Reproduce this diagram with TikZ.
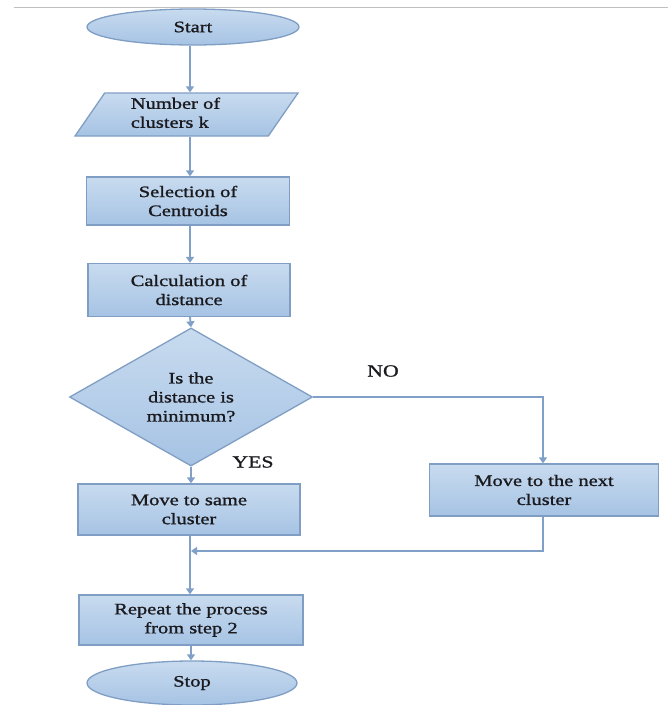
\documentclass[tikz,border=0pt]{standalone}
\usepackage{fontspec}
\setmainfont[FakeStretch=1.28,FakeBold=1.1]{Liberation Serif}
\usetikzlibrary{shapes.geometric,arrows.meta,calc}
\definecolor{lineblue}{RGB}{128,160,200}
\definecolor{edgeblue}{RGB}{128,158,196}
\definecolor{filltop}{RGB}{200,219,239}
\definecolor{fillbot}{RGB}{166,195,228}
\definecolor{txt}{RGB}{25,25,30}
\tikzset{
  base/.style={draw=edgeblue, line width=1.3pt, top color=filltop, bottom color=fillbot,
    text=txt, font=\fontsize{16}{19}\selectfont, align=center, inner sep=0pt},
  procbox/.style={base, rectangle},
  termbox/.style={base, ellipse},
  iobox/.style={base, trapezium, trapezium left angle=62, trapezium right angle=118,
    trapezium stretches=true, align=left},
  decbox/.style={base, diamond},
  conn/.style={draw=lineblue, line width=1.8pt, -{Triangle[length=6pt,width=8pt]}},
  lbl/.style={text=txt, font=\fontsize{17}{20}\selectfont, inner sep=0pt}
}
\begin{document}
\begin{tikzpicture}[x=1pt,y=-1pt]
\useasboundingbox (0,0) rectangle (668,705);
\draw[black!25, line width=1pt] (14,7) -- (668,7);

\node[termbox, minimum width=212pt, minimum height=36pt] (start) at (193,27) {Start};
\node[iobox, minimum width=223pt, minimum height=43pt] (num) at (186.5,114.5)
  {\begin{tabular}{@{}l@{}}Number of\\clusters k\end{tabular}\hspace*{22pt}};
\node[procbox, minimum width=203pt, minimum height=48pt] (sel) at (188,201) {Selection of\\Centroids};
\node[procbox, minimum width=202pt, minimum height=53pt] (calc) at (189,290) {Calculation of\\distance};
\node[decbox, minimum width=243pt, minimum height=120pt] (dec) at (191,397) {Is the\\distance is\\minimum?};
\node[procbox, minimum width=222pt, minimum height=51pt] (same) at (189,509.5) {Move to same\\cluster};
\node[procbox, minimum width=229pt, minimum height=52pt] (next) at (544,490) {Move to the next\\cluster};
\node[procbox, minimum width=224pt, minimum height=50pt] (rep) at (191,620) {Repeat the process\\from step 2};
\node[termbox, minimum width=210pt, minimum height=44pt] (stop) at (192,683) {Stop};

\node[lbl] (no) at (383,371) {NO};
\node[lbl] (yes) at (253,462) {YES};

\coordinate (nocorner) at (543,397);
\coordinate (merge) at (543,551);
\coordinate (mergeend) at (191,551);

\draw[conn] (start.south -| 190,0) -- (num.north -| 190,0);
\draw[conn] (num.south -| 190,0) -- (sel.north -| 190,0);
\draw[conn] (sel.south -| 190,0) -- (calc.north -| 190,0);
\draw[conn] (calc.south -| 190,0) -- (dec.north);
\draw[conn] (dec.south) -- (same.north -| dec.south);
\draw[conn] (dec.east) -- (nocorner) -- (next.north -| nocorner);
\draw[conn] (same.south -| 190,0) -- (rep.north -| 190,0);
\draw[conn, line width=2.4pt] (next.south -| merge) -- (merge) -- (mergeend);
\draw[conn] (rep.south -| 191,0) -- (stop.north -| 191,0);
\end{tikzpicture}
\end{document}
